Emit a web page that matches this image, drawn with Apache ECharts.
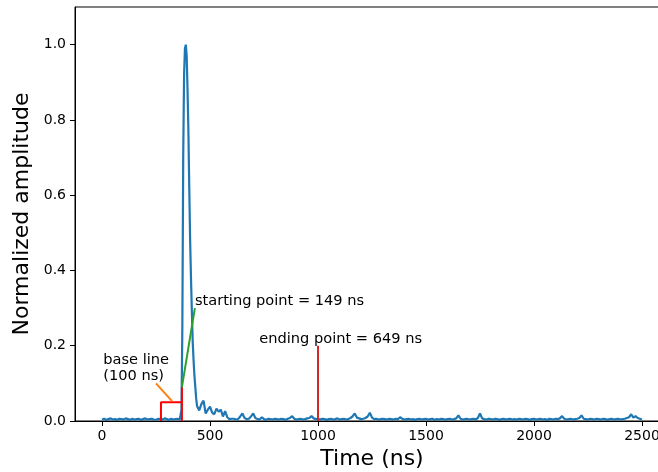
<!DOCTYPE html>
<html>
<head>
<meta charset="utf-8">
<script src="https://cdn.jsdelivr.net/npm/echarts@6/dist/echarts.min.js"></script>
<style>html,body{margin:0;padding:0;background:#fff}#c{width:658px;height:472px}</style>
</head>
<body>
<div id="c"></div>
<script>
// ---- data ----
const timeNs = [
  0,10,20,30,40,50,60,70,80,90,100,110,120,130,140,150,160,170,180,190,200,210,220,230,240,250,260,270,280,290,300,310,320,330,340,350,360,
  364,368,372,376,380,384,388,392,396,400,404,408,412,416,420,424,428,432,436,440,
  450,460,470,480,490,500,510,520,530,540,550,560,570,580,590,600,
  610,620,630,640,650,660,670,680,690,700,
  710,720,730,740,750,760,770,780,790,800,
  810,820,830,840,850,860,870,880,890,900,
  910,920,930,940,950,960,970,980,990,1000,
  1010,1020,1030,1040,1050,1060,1070,1080,1090,1100,
  1110,1120,1130,1140,1150,1160,1170,1180,1190,1200,
  1210,1220,1230,1240,1250,1260,1270,1280,1290,1300,
  1310,1320,1330,1340,1350,1360,1370,1380,1390,1400,
  1410,1420,1430,1440,1450,1460,1470,1480,1490,1500,
  1510,1520,1530,1540,1550,1560,1570,1580,1590,1600,
  1610,1620,1630,1640,1650,1660,1670,1680,1690,1700,
  1710,1720,1730,1740,1750,1760,1770,1780,1790,1800,
  1810,1820,1830,1840,1850,1860,1870,1880,1890,1900,
  1910,1920,1930,1940,1950,1960,1970,1980,1990,2000,
  2010,2020,2030,2040,2050,2060,2070,2080,2090,2100,
  2110,2120,2130,2140,2150,2160,2170,2180,2190,2200,
  2210,2220,2230,2240,2250,2260,2270,2280,2290,2300,
  2310,2320,2330,2340,2350,2360,2370,2380,2390,2400,
  2410,2420,2430,2440,2450,2460,2470,2480,2490,2500
];
const amplitude = [
  0.004,0.006,0.003,0.005,0.007,0.004,0.005,0.003,0.006,0.005,0.004,0.007,0.005,0.003,0.006,0.004,0.005,0.006,0.003,0.005,
  0.007,0.004,0.005,0.006,0.004,0.003,0.006,0.005,0.004,0.007,0.005,0.003,0.006,0.004,0.005,0.006,0.004,
  0.008,0.03,0.25,0.70,0.92,0.99,1.0,0.97,0.88,0.77,0.62,0.48,0.38,0.29,0.21,0.16,0.12,0.09,0.06,0.04,
  0.028,0.045,0.054,0.02,0.03,0.038,0.022,0.018,0.033,0.025,0.03,0.012,0.026,0.01,0.005,0.006,
  0.006,0.004,0.005,0.012,0.020,0.008,0.005,0.006,0.012,0.020,
  0.008,0.005,0.004,0.010,0.005,0.003,0.006,0.005,0.004,0.006,
  0.005,0.004,0.006,0.005,0.003,0.006,0.008,0.013,0.006,0.004,
  0.005,0.006,0.004,0.005,0.007,0.008,0.013,0.007,0.005,0.006,
  0.004,0.006,0.005,0.003,0.005,0.006,0.004,0.005,0.007,0.004,
  0.005,0.006,0.004,0.005,0.008,0.012,0.020,0.009,0.007,0.005,
  0.006,0.008,0.012,0.022,0.009,0.005,0.006,0.004,0.005,0.006,
  0.005,0.004,0.006,0.005,0.004,0.006,0.005,0.010,0.006,0.004,
  0.005,0.006,0.004,0.005,0.003,0.005,0.006,0.004,0.005,0.006,
  0.004,0.005,0.006,0.003,0.005,0.004,0.006,0.005,0.004,0.005,
  0.006,0.004,0.005,0.007,0.015,0.006,0.004,0.005,0.006,0.004,
  0.005,0.006,0.004,0.008,0.020,0.007,0.005,0.004,0.006,0.005,
  0.004,0.006,0.005,0.003,0.005,0.006,0.004,0.005,0.006,0.004,
  0.005,0.004,0.006,0.005,0.004,0.006,0.005,0.003,0.005,0.006,
  0.004,0.005,0.006,0.004,0.005,0.003,0.006,0.005,0.004,0.006,
  0.005,0.007,0.013,0.006,0.004,0.005,0.006,0.004,0.005,0.006,
  0.008,0.015,0.006,0.005,0.004,0.006,0.005,0.004,0.006,0.005,
  0.004,0.006,0.005,0.003,0.005,0.006,0.004,0.005,0.006,0.004,
  0.005,0.006,0.008,0.010,0.018,0.009,0.013,0.008,0.006,0.004
];
// annotation geometry (data units)
const baseBoxX = [273, 273, 370, 370, 370];
const baseBoxY = [0, 0.05, 0.05, 0, 0.09];
const slopeX = [370, 430];
const slopeY = [0.09, 0.30];
const pointerX = [250, 324];
const pointerY = [0.10, 0.053];
const endLineX = [1000, 1000];
const endLineY = [0, 0.2];
const xTicks = [0, 500, 1000, 1500, 2000, 2500];
const yTicks = [0, 0.2, 0.4, 0.6, 0.8, 1.0];
const notes = [
  {x: 430, y: 0.319, text: 'starting point = 149 ns'},
  {x: 728, y: 0.218, text: 'ending point = 649 ns'},
  {x: 6, y: 0.139, text: 'base line\n(100 ns)'}
];

const zip = (xs, ys) => xs.map((x, i) => [x, ys[i]]);
const FONT = 'DejaVu Sans';
const seg = (xs, ys, color) => ({
  type: 'line', data: zip(xs, ys), showSymbol: false, symbol: 'none',
  lineStyle: {color, width: 2}, itemStyle: {color}, silent: true, z: 3
});
const noteLabel = {show: true, position: 'right', distance: 0, align: 'left', verticalAlign: 'middle',
  fontSize: 14.6, lineHeight: 16, color: '#000', opacity: 1, fontFamily: FONT, textBorderWidth: 0};

const chart = echarts.init(document.getElementById('c'), null, {renderer: 'canvas'});
chart.setOption({
  animation: false,
  backgroundColor: '#fff',
  textStyle: {fontFamily: FONT, color: '#000'},
  grid: {left: 75, right: -11, top: 7, bottom: 51, containLabel: false, outerBoundsMode: 'none',
    show: true, borderColor: '#000', borderWidth: 1, backgroundColor: 'transparent'},
  xAxis: {
    type: 'value', min: -125, max: 2625,
    name: 'Time (ns)', nameLocation: 'middle', nameGap: 27,
    nameTextStyle: {fontSize: 22, color: '#000', fontFamily: FONT},
    axisLine: {show: true, onZero: false, lineStyle: {color: '#000', width: 1}},
    axisTick: {show: true, inside: false, length: 5, lineStyle: {color: '#000'}, customValues: xTicks},
    axisLabel: {fontSize: 14, color: '#000', margin: 8, fontFamily: FONT, customValues: xTicks,
      formatter: v => String(v)},
    splitLine: {show: false}
  },
  yAxis: {
    type: 'value', min: 0, max: 1.1,
    name: 'Normalized amplitude', nameLocation: 'middle', nameGap: 38, nameRotate: 90,
    nameTextStyle: {fontSize: 22, color: '#000', fontFamily: FONT},
    axisLine: {show: true, onZero: false, lineStyle: {color: '#000', width: 1}},
    axisTick: {show: true, inside: false, length: 5, lineStyle: {color: '#000'}, customValues: yTicks},
    axisLabel: {fontSize: 14, color: '#000', margin: 9, fontFamily: FONT, customValues: yTicks,
      formatter: v => v.toFixed(1)},
    splitLine: {show: false}
  },
  series: [
    {
      type: 'line', data: zip(timeNs, amplitude), showSymbol: false, symbol: 'none',
      lineStyle: {color: '#1f77b4', width: 2.2}, itemStyle: {color: '#1f77b4'}, z: 2
    },
    seg(baseBoxX, baseBoxY, '#ff0000'),
    seg(slopeX, slopeY, '#2ca02c'),
    seg(pointerX, pointerY, '#ff7f0e'),
    seg(endLineX, endLineY, '#d62728'),
    {
      type: 'scatter', symbolSize: 0, silent: true, z: 5,
      itemStyle: {color: '#000', opacity: 1},
      data: notes.map(n => ({value: [n.x, n.y], label: Object.assign({}, noteLabel, {formatter: n.text})})),
      label: noteLabel,
      emphasis: {disabled: true}
    }
  ]
});
</script>
</body>
</html>
